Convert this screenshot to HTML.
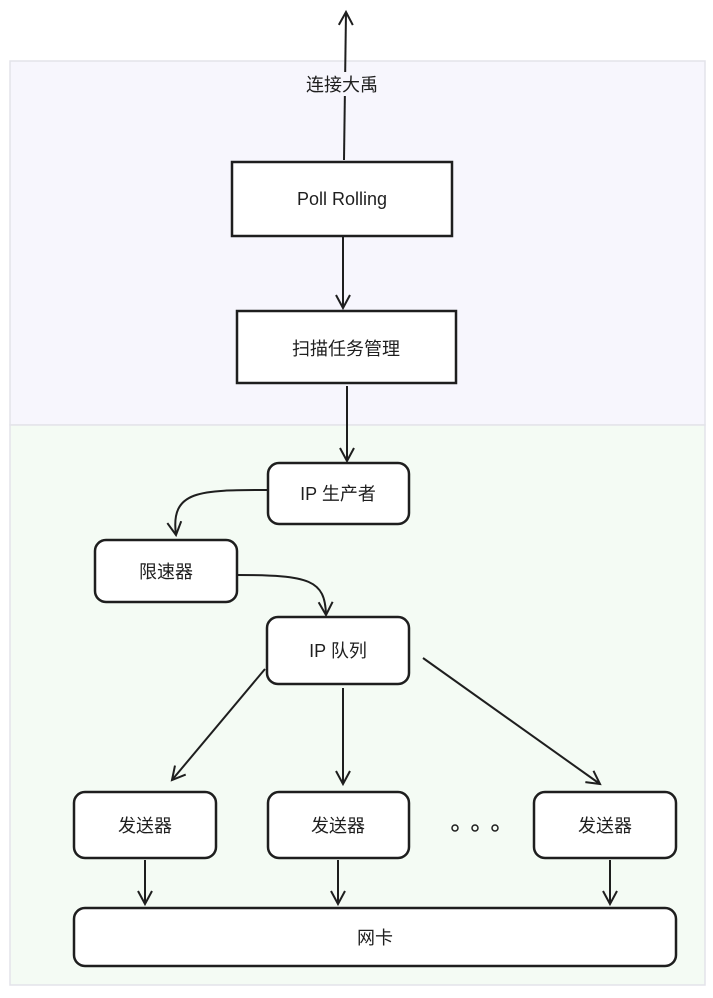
<!DOCTYPE html>
<html><head><meta charset="utf-8"><style>
body{margin:0;width:713px;height:993px;background:#fff;overflow:hidden}
svg text{font-family:"Liberation Sans","Noto Sans CJK SC",sans-serif;font-size:18px;fill:#1e1e1e}
</style></head><body>
<svg width="713" height="993" viewBox="0 0 713 993">
<defs><marker id="a" markerWidth="20" markerHeight="20" refX="15" refY="10" orient="auto" markerUnits="userSpaceOnUse"><path d="M2,3 L15,10 L2,17" fill="none" stroke="#1e1e1e" stroke-width="2"/></marker></defs>
<rect x="10" y="61" width="695" height="364" fill="#f7f6fd" stroke="#e3e3ea" stroke-width="1.5"/>
<rect x="10" y="425" width="695" height="560" fill="#f4fbf4" stroke="#e3e3ea" stroke-width="1.5"/>
<g fill="#fff" stroke="#1e1e1e" stroke-width="2.5">
<rect x="232" y="162" width="220" height="74"/>
<rect x="237" y="311" width="219" height="72"/>
<rect x="268" y="463" width="141" height="61" rx="11"/>
<rect x="95" y="540" width="142" height="62" rx="11"/>
<rect x="267" y="617" width="142" height="67" rx="11"/>
<rect x="74" y="792" width="142" height="66" rx="11"/>
<rect x="268" y="792" width="141" height="66" rx="11"/>
<rect x="534" y="792" width="142" height="66" rx="11"/>
<rect x="74" y="908" width="602" height="58" rx="11"/>
</g>
<g fill="none" stroke="#1e1e1e" stroke-width="2" marker-end="url(#a)">
<path d="M344,160 L346,12"/>
<path d="M343,237 L343,308"/>
<path d="M347,386 L347,461"/>
<path d="M268,490 C200,490 170,490 176,535"/>
<path d="M237,575 C310,575 325,580 326,615"/>
<path d="M265,669 L172,780"/>
<path d="M343,688 L343,784"/>
<path d="M423,658 L600,784"/>
<path d="M145,860 L145,904"/>
<path d="M338,860 L338,904"/>
<path d="M610,860 L610,904"/>
</g>
<g fill="none" stroke="#1e1e1e" stroke-width="1.5">
<circle cx="455" cy="828" r="3"/><circle cx="475" cy="828" r="3"/><circle cx="495" cy="828" r="3"/>
</g>
<rect x="300" y="72" width="84" height="24" fill="#f7f6fd"/>
<g text-anchor="middle">
<text x="342" y="91">连接大禹</text>
<text x="342" y="205">Poll Rolling</text>
<text x="346" y="355">扫描任务管理</text>
<text x="338" y="500">IP 生产者</text>
<text x="166" y="578">限速器</text>
<text x="338" y="657">IP 队列</text>
<text x="145" y="832">发送器</text>
<text x="338" y="832">发送器</text>
<text x="605" y="832">发送器</text>
<text x="375" y="944">网卡</text>
</g>
</svg>
</body></html>
